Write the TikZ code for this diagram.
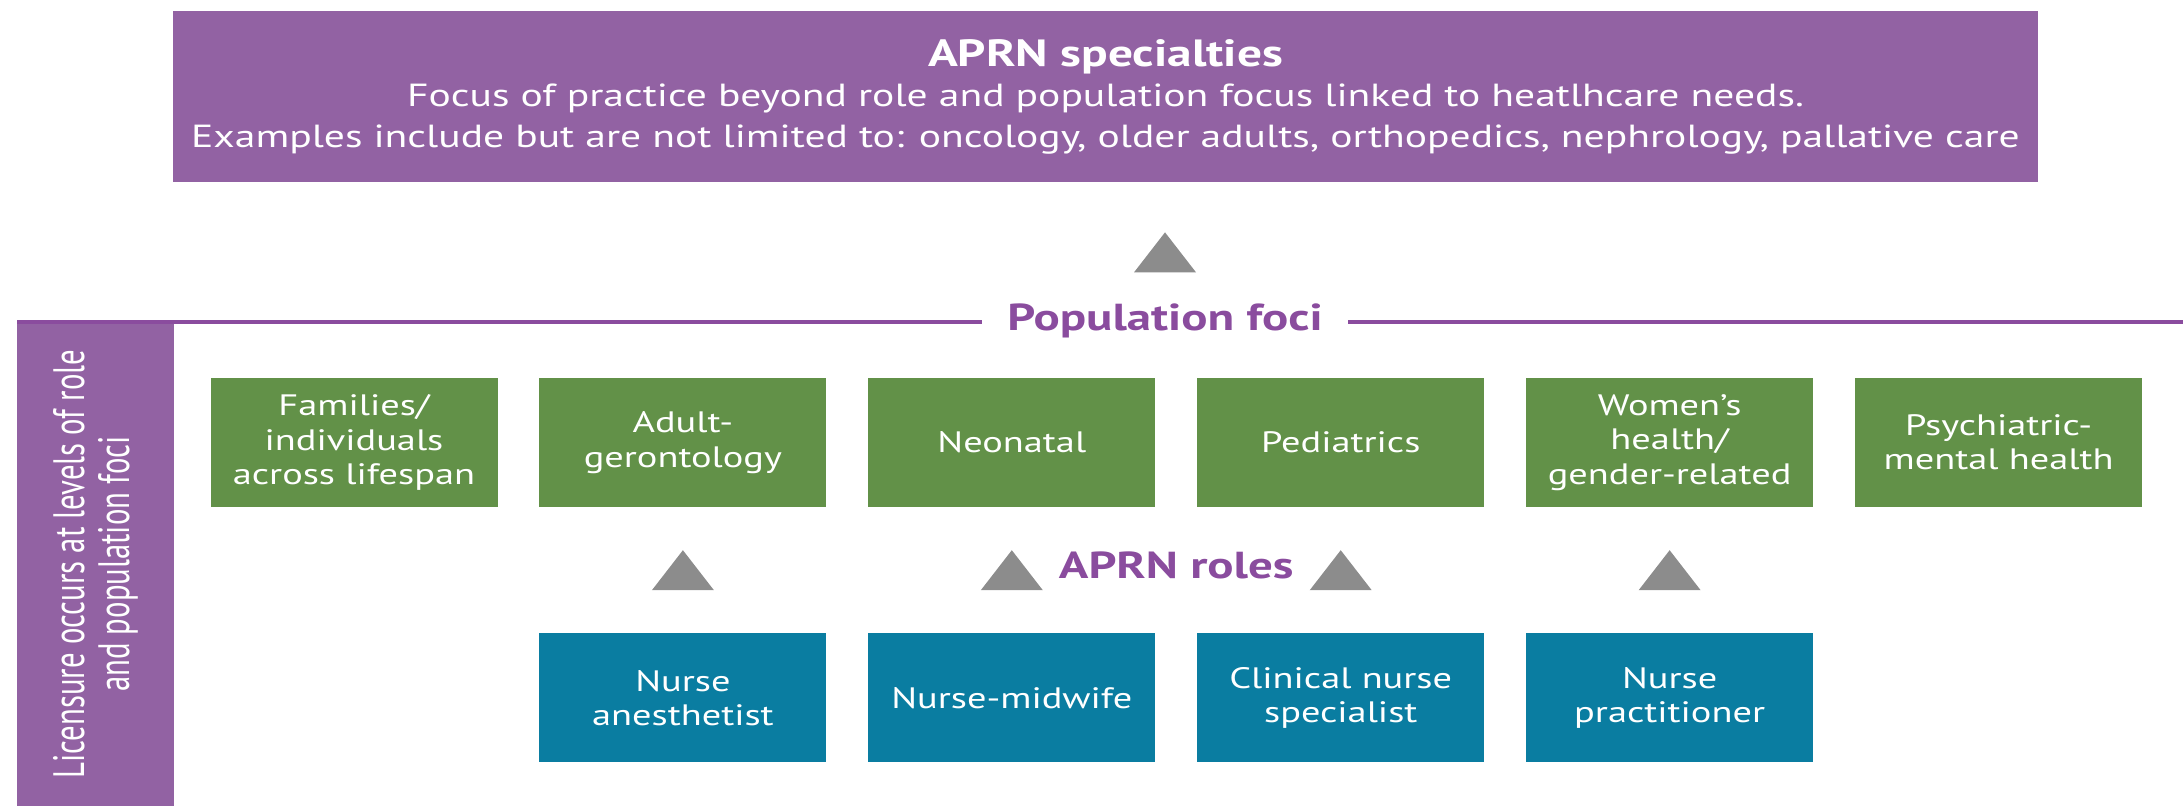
\documentclass[tikz,border=0pt]{standalone}
\usepackage{fontspec}
\setmainfont{PT Sans}[FakeStretch=1.3]
\newfontfamily\sidefont{PT Sans}[FakeStretch=0.7]
\usetikzlibrary{
    calc,
    positioning
}
\definecolor{specpurple}{RGB}{146,98,163}
\definecolor{focigreen}{RGB}{98,145,72}
\definecolor{roleblue}{RGB}{10,125,161}
\definecolor{trigrey}{RGB}{140,140,140}
\definecolor{labelpurple}{RGB}{138,76,158}
\tikzset{
    specbox/.style={fill=specpurple, text=white, minimum width=18.65cm, minimum height=1.71cm,
        align=center, font=\fontsize{9.1}{11.5}\selectfont},
    focibox/.style={fill=focigreen, text=white, minimum width=2.87cm, minimum height=1.29cm,
        align=center, inner sep=2pt, font=\fontsize{8.4}{9.8}\selectfont},
    rolebox/.style={focibox, fill=roleblue},
    levellabel/.style={text=labelpurple, font=\bfseries\fontsize{10.7}{12}\selectfont},
    sidebar/.style={fill=specpurple, text=white, minimum width=4.84cm, minimum height=1.57cm,
        align=center, inner sep=0pt, font=\sidefont\fontsize{12.5}{12.8}\selectfont},
    foci line/.style={draw=labelpurple, line width=1pt},
    uptri/.pic={\fill[trigrey] (-0.31,-0.2) -- (0.31,-0.2) -- (0,0.2) -- cycle;}
}

\begin{document}
\begin{tikzpicture}
                        \useasboundingbox (0, 0) rectangle (21.83, -8.06);
                        % specialties
                        \node[specbox] (spec) at (11.055, -0.965)
                            {{\bfseries\fontsize{10.8}{11.5}\selectfont APRN specialties}\\
                             Focus of practice beyond role and population focus linked to heatlhcare needs.\\
                             Examples include but are not limited to: oncology, older adults, orthopedics, nephrology, pallative care};
                        % population foci
                        \node[levellabel, anchor=mid, inner xsep=0.25cm] (popfoci) at (11.65, -3.22) {Population foci};
                        \coordinate (lineL) at (0.17, -3.22);
                        \coordinate (lineR) at (21.83, -3.22);
                        \node[sidebar, rotate=90] (lic) at (0.955, -5.64)
                            {Licensure occurs at levels of role\\and population foci};
                        \draw[foci line]
                        (lineL) -- (popfoci.mid west)
                        (popfoci.mid east) -- (lineR);
                        \node[focibox] (f1) at (3.54, -4.425) {Families/\\individuals\\across lifespan};
                        \node[focibox, right=0.405cm of f1] (f2) {Adult-\\gerontology};
                        \node[focibox, right=0.405cm of f2] (f3) {Neonatal};
                        \node[focibox, right=0.405cm of f3] (f4) {Pediatrics};
                        \node[focibox, right=0.405cm of f4] (f5) {Women's\\health/\\gender-related};
                        \node[focibox, right=0.405cm of f5] (f6) {Psychiatric-\\mental health};
                        % roles
                        \node[rolebox, below=1.25cm of f2] (r1) {Nurse\\anesthetist};
                        \node[rolebox, below=1.25cm of f3] (r2) {Nurse-midwife};
                        \node[rolebox, below=1.25cm of f4] (r3) {Clinical nurse\\specialist};
                        \node[rolebox, below=1.25cm of f5] (r4) {Nurse\\practitioner};
                        \node[levellabel, anchor=mid] (roles) at ($(f3.south east)!0.5!(r3.north west)$) {APRN roles};
                        % triangles
                        \pic at ($(popfoci.mid |- spec.south)!0.5!(popfoci.mid)$) {uptri};
                        \foreach \f/\r in {f2/r1, f3/r2, f4/r3, f5/r4}
                            \pic at ($(\f.south)!0.5!(\r.north)$) {uptri};
                    \end{tikzpicture}
\end{document}
